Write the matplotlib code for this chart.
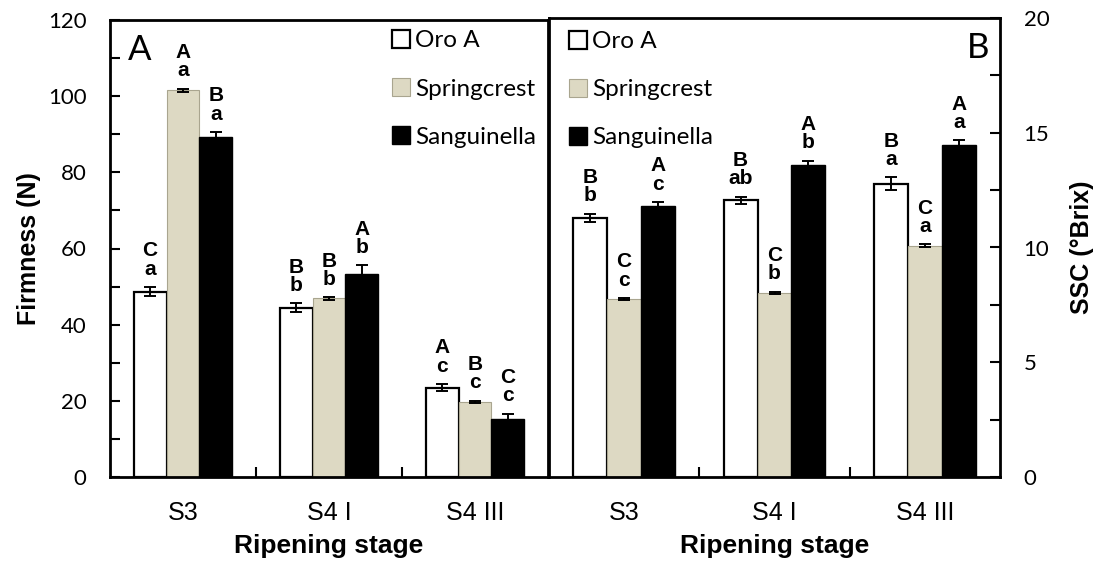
import matplotlib
matplotlib.use('Agg')
import matplotlib.pyplot as plt
import numpy as np

stages = ['S3', 'S4 I', 'S4 III']
cultivars = ['Oro A', 'Springcrest', 'Sanguinella']

# firmness (N), panel A
firm_oro = [48.7, 44.5, 23.5]
firm_spring = [101.5, 46.9, 19.7]
firm_sang = [89.2, 53.2, 15.1]
firm_oro_err = [1.2, 1.1, 0.9]
firm_spring_err = [0.5, 0.3, 0.3]
firm_sang_err = [1.4, 2.4, 1.5]
firm_letters_oro = ['C\na', 'B\nb', 'A\nc']
firm_letters_spring = ['A\na', 'B\nb', 'B\nc']
firm_letters_sang = ['B\na', 'A\nb', 'C\nc']

# SSC (Brix), panel B
ssc_oro = [11.3, 12.05, 12.78]
ssc_spring = [7.75, 8.02, 10.08]
ssc_sang = [11.83, 13.6, 14.46]
ssc_oro_err = [0.17, 0.16, 0.28]
ssc_spring_err = [0.05, 0.05, 0.06]
ssc_sang_err = [0.15, 0.19, 0.22]
ssc_letters_oro = ['B\nb', 'B\nab', 'B\na']
ssc_letters_spring = ['C\nc', 'C\nb', 'C\na']
ssc_letters_sang = ['A\nc', 'A\nb', 'A\na']

fills = ['white', '#ddd9c3', 'black']
edges = ['black', '#a9a58f', 'black']
edge_w = [1.6, 0.8, 1.0]

REG = 'Lato'
ARIAL = 'Liberation Sans'

fig = plt.figure(figsize=(11.03, 5.68), dpi=100)
axA = fig.add_axes([110/1103, 91/568, 438/1103, 457/568])
axB = fig.add_axes([549/1103, 91/568, 451/1103, 459/568])

w = 0.226
x = np.arange(len(stages))


def draw_panel(ax, series, errs, letters, ymax, step, off):
    for i in range(3):
        ax.bar(x + (i - 1) * w, series[i], w, color=fills[i], edgecolor=edges[i],
               linewidth=edge_w[i], label=cultivars[i], zorder=2)
        ax.errorbar(x + (i - 1) * w, series[i], yerr=errs[i], fmt='none', ecolor='black',
                    elinewidth=1.4, capsize=4, capthick=1.4, zorder=3)
        for j in range(3):
            ax.annotate(letters[i][j], (x[j] + (i - 1) * w, series[i][j] + errs[i][j]),
                        xytext=(0, off), textcoords='offset points', ha='center', va='bottom',
                        fontsize=15, fontweight='bold', family=ARIAL, linespacing=0.95)
    ax.set_xlim(-0.5, 2.5)
    ax.set_ylim(0, ymax)
    ax.set_yticks(np.arange(0, ymax + 0.01, step))
    ax.set_yticks(np.arange(0, ymax + 0.01, step / 2), minor=True)
    ax.set_xticks([0.5, 1.5])
    ax.set_xticklabels([])
    ax.set_xticks(x, minor=True)
    ax.set_xticklabels(stages, minor=True, fontsize=18, family=ARIAL)
    ax.tick_params(axis='x', which='major', direction='in', length=7, width=1.5)
    ax.tick_params(axis='x', which='minor', length=0, pad=17)
    ax.tick_params(axis='y', which='both', direction='in', length=7, width=1.5, pad=17,
                   labelsize=16)
    for lab in ax.get_yticklabels():
        lab.set_family(REG)
    for s in ax.spines.values():
        s.set_linewidth(2)
    ax.set_xlabel('Ripening stage', fontsize=19, fontweight='bold', family=ARIAL)
    ax.xaxis.set_label_coords(0.5, -0.125)


draw_panel(axA, [firm_oro, firm_spring, firm_sang],
           [firm_oro_err, firm_spring_err, firm_sang_err],
           [firm_letters_oro, firm_letters_spring, firm_letters_sang], 120, 20, 6)
draw_panel(axB, [ssc_oro, ssc_spring, ssc_sang],
           [ssc_oro_err, ssc_spring_err, ssc_sang_err],
           [ssc_letters_oro, ssc_letters_spring, ssc_letters_sang], 20, 5, 6)

axB.yaxis.tick_right()
axB.yaxis.set_label_position('right')
for lab in axB.get_yticklabels():
    lab.set_family(REG)

axA.set_ylabel('Firmness (N)', fontsize=18, fontweight='bold', family=ARIAL)
axA.yaxis.set_label_coords(-0.158, 0.5)
axB.set_ylabel('SSC (\u00b0Brix)', fontsize=18, fontweight='bold', family=ARIAL,
               rotation=90)
axB.yaxis.set_label_coords(1.155, 0.5)

axA.text(0.041, 0.912, 'A', transform=axA.transAxes, fontsize=25, family=REG,
         ha='left', va='baseline')
axB.text(0.976, 0.912, 'B', transform=axB.transAxes, fontsize=25, family=REG,
         ha='right', va='baseline')

leg_kw = dict(frameon=False, handlelength=0.75, handleheight=0.75,
              handletextpad=0.2, labelspacing=1.1, borderpad=0, borderaxespad=0,
              prop={'family': REG, 'size': 17.5}, loc='upper left')
axA.legend(bbox_to_anchor=(0.644, 0.978), **leg_kw)
axB.legend(bbox_to_anchor=(0.044, 0.972), **leg_kw)

fig.savefig('out.png', dpi=100)
